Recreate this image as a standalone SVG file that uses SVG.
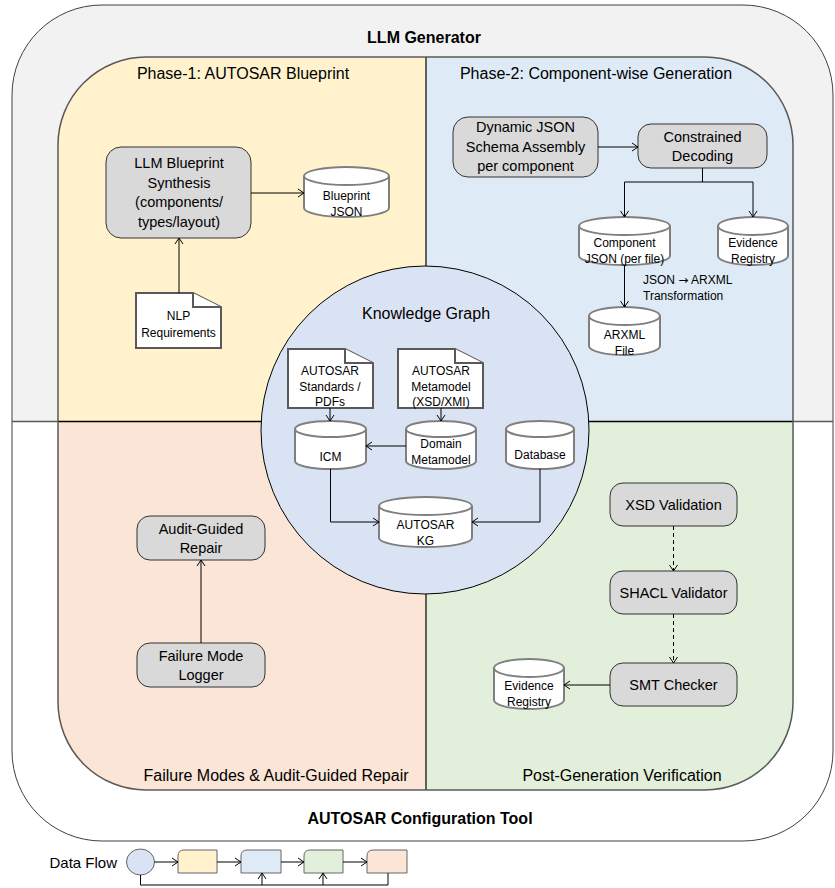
<svg xmlns="http://www.w3.org/2000/svg" width="835" height="888" viewBox="0 0 835 888">
<defs>
<style>
text{font-family:"Liberation Sans",Arial,sans-serif;fill:#000;text-anchor:middle}
.ttl{font-size:16px;font-weight:bold}
.qt{font-size:16px}
.bx{fill:#d9d9d9;stroke:#333;stroke-width:1}
.bt{font-size:14.5px}
.cy{fill:#fff;stroke:#7f7f7f;stroke-width:2}
.cyl{fill:none;stroke:#7f7f7f;stroke-width:2}
.ct{font-size:12px}
.doc{fill:#fff;stroke:#595959;stroke-width:2}
.ln{fill:none;stroke:#000;stroke-width:1;marker-end:url(#ah)}
.dash{stroke-dasharray:4 3}
.lg{stroke:#666;stroke-width:1}
</style>
<marker id="ah" markerWidth="10" markerHeight="10" refX="8" refY="5" orient="auto" markerUnits="userSpaceOnUse"><path d="M2,1 L8,5 L2,9" fill="none" stroke="#000" stroke-width="1"/></marker>
<clipPath id="outerClip"><rect x="12" y="5" width="821" height="836" rx="90" ry="90"/></clipPath>
<clipPath id="innerClip"><rect x="58" y="57" width="735" height="733" rx="88" ry="88"/></clipPath>
</defs>

<g id="outer">
<rect x="12" y="5" width="821" height="836" rx="90" ry="90" fill="#fff"/>
<rect x="12" y="5" width="821" height="416" fill="#f2f2f2" clip-path="url(#outerClip)"/>
<rect x="12" y="5" width="821" height="836" rx="90" ry="90" fill="none" stroke="#404040" stroke-width="1"/>
<line x1="12" y1="421.5" x2="833" y2="421.5" stroke="#595959" stroke-width="1.5"/>
<text class="ttl" x="424" y="43">LLM Generator</text>
<text class="ttl" x="420" y="824">AUTOSAR Configuration Tool</text>
</g>

<g id="panel">
<g clip-path="url(#innerClip)">
<rect x="58" y="57" width="368" height="364.5" fill="#fff2cc"/>
<rect x="426" y="57" width="367" height="364.5" fill="#deebf7"/>
<rect x="58" y="421.5" width="368" height="369" fill="#fbe5d6"/>
<rect x="426" y="421.5" width="367" height="369" fill="#e2efda"/>
</g>
<line x1="426" y1="57" x2="426" y2="790" stroke="#000" stroke-width="1.2"/>
<line x1="58" y1="421.5" x2="793" y2="421.5" stroke="#000" stroke-width="1.5"/>
<rect x="58" y="57" width="735" height="733" rx="88" ry="88" fill="none" stroke="#595959" stroke-width="1.5"/>
<text class="qt" x="243" y="79">Phase-1: AUTOSAR Blueprint</text>
<text class="qt" x="596" y="79">Phase-2: Component-wise Generation</text>
<text class="qt" x="276" y="781">Failure Modes &amp; Audit-Guided Repair</text>
<text class="qt" x="622" y="781">Post-Generation Verification</text>
</g>

<g id="kg">
<circle cx="425" cy="430" r="164" fill="#dae3f3" stroke="#000" stroke-width="1"/>
<text class="qt" x="426" y="319">Knowledge Graph</text>
</g>

<g id="llm-blueprint">
<rect class="bx" x="106" y="147" width="145" height="91" rx="15"/>
<text class="bt" x="179" y="168">LLM Blueprint</text>
<text class="bt" x="179" y="188">Synthesis</text>
<text class="bt" x="179" y="207">(components/</text>
<text class="bt" x="179" y="227">types/layout)</text>
</g>

<g id="blueprint-json">
<path class="cy" d="M304,176 A42.5,9 0 0 1 389,176 V208 A42.5,9 0 0 1 304,208 Z"/>
<path class="cyl" d="M304,176 A42.5,9 0 0 0 389,176"/>
<text class="ct" x="346.5" y="200">Blueprint</text>
<text class="ct" x="346.5" y="216">JSON</text>
</g>

<g id="nlp">
<path class="doc" d="M136,293 H193 L221,307 V348 H136 Z"/>
<path class="doc" d="M193,293 V307 H221" fill="none"/>
<text class="ct" x="178.5" y="320">NLP</text>
<text class="ct" x="178.5" y="337">Requirements</text>
</g>

<g id="dynamic-schema">
<rect class="bx" x="453" y="117" width="145" height="60" rx="15"/>
<text class="bt" x="525.5" y="132">Dynamic JSON</text>
<text class="bt" x="525.5" y="152">Schema Assembly</text>
<text class="bt" x="525.5" y="171">per component</text>
</g>

<g id="constrained">
<rect class="bx" x="638" y="124" width="129" height="44" rx="13"/>
<text class="bt" x="702.5" y="142">Constrained</text>
<text class="bt" x="702.5" y="161">Decoding</text>
</g>

<g id="component-json">
<path class="cy" d="M579,226 A45.5,9 0 0 1 670,226 V256 A45.5,9 0 0 1 579,256 Z"/>
<path class="cyl" d="M579,226 A45.5,9 0 0 0 670,226"/>
<text class="ct" x="624.5" y="247">Component</text>
<text class="ct" x="624.5" y="263">JSON (per file)</text>
</g>

<g id="evidence-top">
<path class="cy" d="M718,226 A35,9 0 0 1 788,226 V256 A35,9 0 0 1 718,256 Z"/>
<path class="cyl" d="M718,226 A35,9 0 0 0 788,226"/>
<text class="ct" x="753" y="247">Evidence</text>
<text class="ct" x="753" y="263">Registry</text>
</g>

<g id="arxml">
<path class="cy" d="M589,316 A35.5,9 0 0 1 660,316 V346 A35.5,9 0 0 1 589,346 Z"/>
<path class="cyl" d="M589,316 A35.5,9 0 0 0 660,316"/>
<text class="ct" x="624.5" y="339">ARXML</text>
<text class="ct" x="624.5" y="355">File</text>
</g>

<g id="standards">
<path class="doc" d="M288,349 H345 L373,363 V408 H288 Z"/>
<path class="doc" d="M345,349 V363 H373" fill="none"/>
<text class="ct" x="330" y="375">AUTOSAR</text>
<text class="ct" x="330" y="391">Standards /</text>
<text class="ct" x="330" y="406">PDFs</text>
</g>

<g id="metamodel-doc">
<path class="doc" d="M398,349 H455 L483,363 V408 H398 Z"/>
<path class="doc" d="M455,349 V363 H483" fill="none"/>
<text class="ct" x="441" y="375">AUTOSAR</text>
<text class="ct" x="441" y="391">Metamodel</text>
<text class="ct" x="441" y="406">(XSD/XMI)</text>
</g>

<g id="icm">
<path class="cy" d="M295,429 A35.5,8 0 0 1 366,429 V461 A35.5,8 0 0 1 295,461 Z"/>
<path class="cyl" d="M295,429 A35.5,8 0 0 0 366,429"/>
<text class="ct" x="330.5" y="461">ICM</text>
</g>

<g id="domain">
<path class="cy" d="M406,429 A35,8 0 0 1 476,429 V461 A35,8 0 0 1 406,461 Z"/>
<path class="cyl" d="M406,429 A35,8 0 0 0 476,429"/>
<text class="ct" x="441" y="448">Domain</text>
<text class="ct" x="441" y="464">Metamodel</text>
</g>

<g id="database">
<path class="cy" d="M506,429 A34,8 0 0 1 574,429 V461 A34,8 0 0 1 506,461 Z"/>
<path class="cyl" d="M506,429 A34,8 0 0 0 574,429"/>
<text class="ct" x="540" y="459">Database</text>
</g>

<g id="autosar-kg">
<path class="cy" d="M379,506 A46.5,9 0 0 1 472,506 V538 A46.5,9 0 0 1 379,538 Z"/>
<path class="cyl" d="M379,506 A46.5,9 0 0 0 472,506"/>
<text class="ct" x="425.5" y="529">AUTOSAR</text>
<text class="ct" x="425.5" y="545">KG</text>
</g>

<g id="audit-repair">
<rect class="bx" x="137" y="516" width="128" height="44" rx="13"/>
<text class="bt" x="201" y="534">Audit-Guided</text>
<text class="bt" x="201" y="553">Repair</text>
</g>

<g id="failure-logger">
<rect class="bx" x="137" y="643" width="128" height="44" rx="13"/>
<text class="bt" x="201" y="661">Failure Mode</text>
<text class="bt" x="201" y="680">Logger</text>
</g>

<g id="xsd">
<rect class="bx" x="610" y="483" width="127" height="43" rx="13"/>
<text class="bt" x="673.5" y="510">XSD Validation</text>
</g>

<g id="shacl">
<rect class="bx" x="610" y="571" width="127" height="43" rx="13"/>
<text class="bt" x="673.5" y="598">SHACL Validator</text>
</g>

<g id="smt">
<rect class="bx" x="610" y="663" width="127" height="43" rx="13"/>
<text class="bt" x="673.5" y="690">SMT Checker</text>
</g>

<g id="evidence-bottom">
<path class="cy" d="M494,668 A35,9 0 0 1 564,668 V700 A35,9 0 0 1 494,700 Z"/>
<path class="cyl" d="M494,668 A35,9 0 0 0 564,668"/>
<text class="ct" x="529" y="690">Evidence</text>
<text class="ct" x="529" y="706">Registry</text>
</g>

<g id="connectors">
<path class="ln" d="M251,193 H304"/>
<path class="ln" d="M179,293 V238"/>
<path class="ln" d="M598,147 H638"/>
<path class="ln" d="M702.5,168 V182 H624.5 V217"/>
<path class="ln" d="M702.5,182 H753 V217"/>
<path class="ln" d="M624.5,265 V307"/>
<path class="ln" d="M330,408 V421"/>
<path class="ln" d="M441,408 V421"/>
<path class="ln" d="M406,446 H366"/>
<path class="ln" d="M330.5,469 V522 H379"/>
<path class="ln" d="M540,469 V522 H472"/>
<path class="ln" d="M201,643 V560"/>
<path class="ln dash" d="M673.5,526 V571"/>
<path class="ln dash" d="M673.5,614 V663"/>
<path class="ln" d="M610,685 H564"/>
<text class="ct" x="643" y="284" style="text-anchor:start">JSON <tspan style="font-family:'DejaVu Sans',sans-serif">→</tspan> ARXML</text>
<text class="ct" x="643" y="300" style="text-anchor:start">Transformation</text>
</g>

<g id="legend">
<text x="117" y="868" style="font-size:15px;text-anchor:end">Data Flow</text>
<ellipse cx="140.5" cy="862" rx="14" ry="13" fill="#dae3f3" class="lg"/>
<path class="lg" fill="#fff2cc" d="M184,850 H217 V873 H178 V856 Q178,850 184,850 Z"/>
<path class="lg" fill="#deebf7" d="M247,850 H281 V873 H241 V856 Q241,850 247,850 Z"/>
<path class="lg" fill="#e2efda" d="M310,850 H343 V873 H304 V856 Q304,850 310,850 Z"/>
<path class="lg" fill="#fbe5d6" d="M373,850 H407 V873 H367 V856 Q367,850 373,850 Z"/>
<path class="ln" d="M154.5,862 H178"/>
<path class="ln" d="M217,862 H241"/>
<path class="ln" d="M281,862 H304"/>
<path class="ln" d="M343,862 H367"/>
<path d="M140.5,875 V885 H388 V873" fill="none" stroke="#000" stroke-width="1"/>
<path class="ln" d="M262,885 V873"/>
<path class="ln" d="M323,885 V873"/>
</g>
</svg>
